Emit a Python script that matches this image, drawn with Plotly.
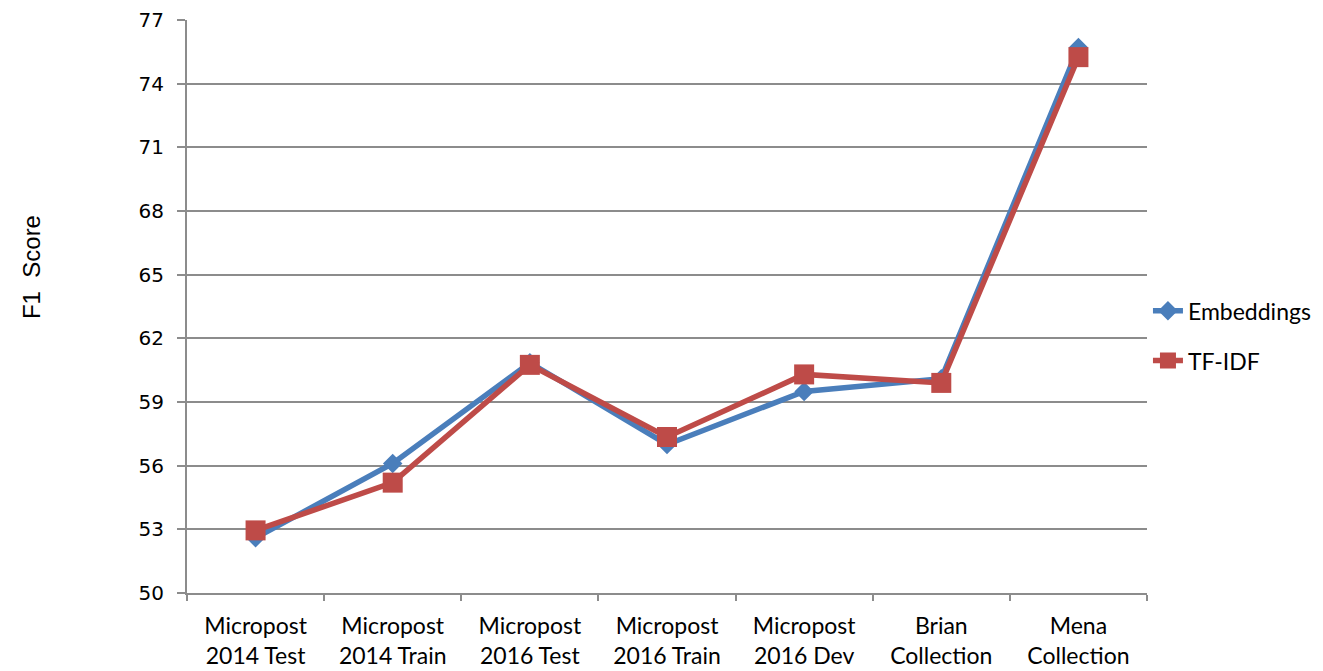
import plotly.graph_objects as go

categories = [
    "Micropost<br>2014 Test",
    "Micropost<br>2014 Train",
    "Micropost<br>2016 Test",
    "Micropost<br>2016 Train",
    "Micropost<br>2016 Dev",
    "Brian<br>Collection",
    "Mena<br>Collection",
]
embeddings = [52.6, 56.1, 60.85, 57.0, 59.5, 60.1, 75.7]
tfidf = [52.95, 55.2, 60.75, 57.35, 60.3, 59.9, 75.25]
y_ticks = [50, 53, 56, 59, 62, 65, 68, 71, 74, 77]

BLUE = "#4A7EBB"
RED = "#BE4B48"
GRID = "#8C8C8C"
LABEL_FONT = "Lato, Carlito, sans-serif"

fig = go.Figure()
fig.add_trace(go.Scatter(
    x=categories, y=embeddings, name="Embeddings", mode="lines+markers",
    line=dict(color=BLUE, width=5.5),
    marker=dict(symbol="diamond", size=15, color=BLUE),
    legendgroup="a",
))
fig.add_trace(go.Scatter(
    x=categories, y=tfidf, name="TF-IDF", mode="lines+markers",
    line=dict(color=RED, width=5.5),
    marker=dict(symbol="square", size=20, color=RED),
    legendgroup="b",
))

fig.update_layout(
    width=1323, height=671,
    margin=dict(l=187, r=176, t=19.5, b=77.5, autoexpand=False),
    paper_bgcolor="white", plot_bgcolor="white",
    showlegend=True,
    legend=dict(
        x=1.001, xanchor="left", y=0.449, yanchor="middle",
        font=dict(family=LABEL_FONT, size=23, color="black"),
        tracegroupgap=17, bgcolor="rgba(0,0,0,0)",
    ),
    xaxis=dict(
        type="category", range=[-0.5, 6.5], automargin=False,
        showgrid=False, showline=True, linecolor=GRID, linewidth=2,
        ticks="outside", tickson="boundaries", ticklen=6, tickcolor=GRID,
        tickwidth=1.5,
        tickfont=dict(family=LABEL_FONT, size=23, color="black"),
        ticklabelstandoff=11,
    ),
    yaxis=dict(
        range=[50, 77], tickvals=y_ticks, automargin=False,
        showgrid=True, gridcolor=GRID, gridwidth=1.5,
        showline=True, linecolor=GRID, linewidth=2,
        ticks="outside", ticklen=8, tickcolor=GRID, tickwidth=1.5,
        tickfont=dict(family="DejaVu Sans, Verdana, sans-serif", size=20, color="black"),
        ticklabelstandoff=9,
        zeroline=False,
    ),
    annotations=[dict(
        text="F1  Score", textangle=-90, showarrow=False,
        xref="paper", yref="paper",
        x=-(187 - 31) / 960, y=(593.5 - 267) / 574,
        xanchor="center", yanchor="middle",
        font=dict(family="Liberation Sans, Arial, sans-serif", size=24, color="black"),
    )],
)

fig.write_html("out.html")
